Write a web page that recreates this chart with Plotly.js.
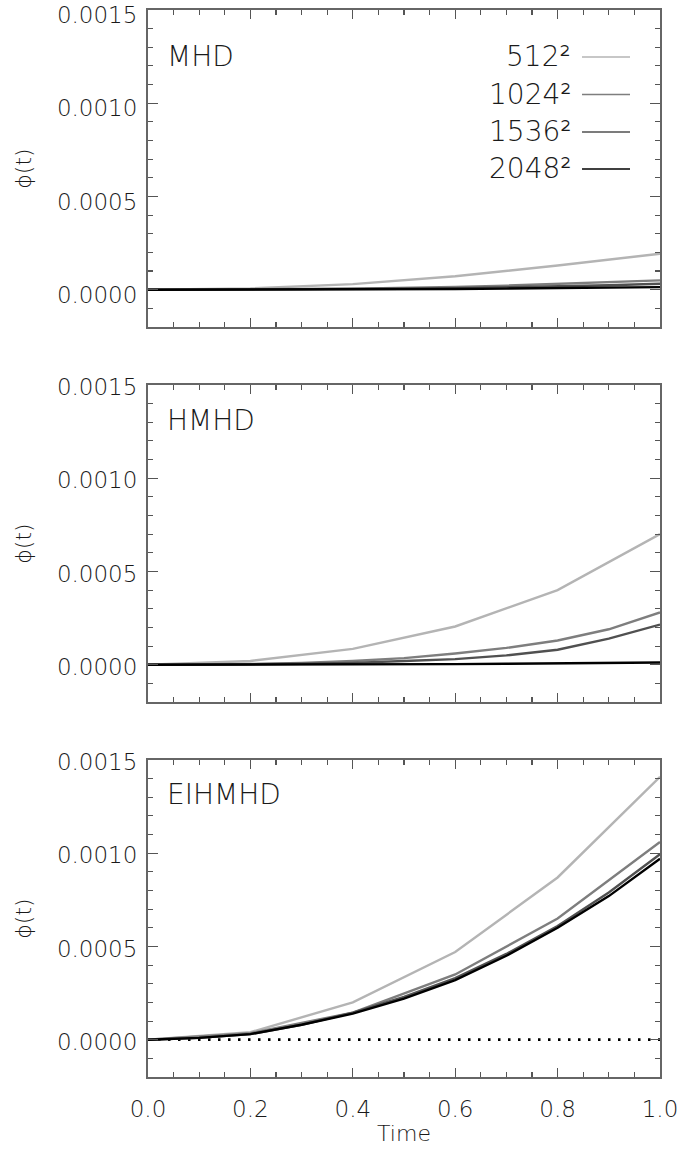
<!DOCTYPE html>
<html>
<head>
<meta charset="utf-8">
<script src="https://cdn.plot.ly/plotly-3.0.1.min.js"></script>
<style>
  html, body { margin: 0; padding: 0; background: #ffffff; }
  #chart { width: 681px; height: 1149px; }
</style>
</head>
<body>
<div id="chart"></div>
<script>
// Reconnection flux phi(t) for three models at four grid resolutions
const resolutions = ['512²', '1024²', '1536²', '2048²'];
const lineColors = ['#b4b4b4', '#7e7e7e', '#505050', '#000000'];
const panelNames = ['MHD', 'HMHD', 'EIHMHD'];

const tCoarse = [0.0, 0.2, 0.4, 0.6, 0.8, 1.0];
const tFine = [0.0, 0.1, 0.2, 0.3, 0.4, 0.5, 0.6, 0.7, 0.8, 0.9, 1.0];

// MHD
const mhd512 = [0, 0.000007, 0.00003, 0.000072, 0.00013, 0.000193];
const mhd1024 = [0, 0.0000005, 0.000001, 0.000003, 0.000006, 0.00001, 0.000015, 0.000022, 0.00003, 0.00004, 0.00005];
const mhd1536 = [0, 0.0000003, 0.0000006, 0.000002, 0.000003, 0.000005, 0.000008, 0.000012, 0.000017, 0.000024, 0.000032];
const mhd2048 = [0, 0, 0, 0.0000005, 0.000001, 0.000002, 0.000004, 0.000006, 0.000008, 0.000011, 0.000014];

// HMHD
const hmhd512 = [0, 0.00002, 0.000085, 0.000205, 0.0004, 0.0007];
const hmhd1024 = [0, 0.000001, 0.000004, 0.00001, 0.00002, 0.000035, 0.00006, 0.00009, 0.00013, 0.00019, 0.00028];
const hmhd1536 = [0, 0, 0.000002, 0.000005, 0.00001, 0.00002, 0.00003, 0.00005, 0.00008, 0.00014, 0.000215];
const hmhd2048 = [0, 0, 0, 0.000001, 0.000001, 0.000002, 0.000003, 0.000005, 0.000007, 0.00001, 0.000012];

// EIHMHD
const eihmhd512 = [0, 0.00004, 0.0002, 0.00047, 0.00087, 0.00141];
const eihmhd1024 = [0, 0.000035, 0.000145, 0.00035, 0.00065, 0.00106];
const eihmhd1536 = [0, 0.00001, 0.00003, 0.00008, 0.000145, 0.00023, 0.00033, 0.00046, 0.00061, 0.00079, 0.000995];
const eihmhd2048 = [0, 0.00001, 0.00003, 0.00008, 0.00014, 0.00022, 0.00032, 0.00045, 0.0006, 0.00077, 0.00097];

// zero reference for the bottom panel
const zeroT = [0.0, 1.0];
const zeroPhi = [0, 0];

const yTicks = [0, 0.0005, 0.001, 0.0015];
const yTickText = ['0.0000', '0.0005', '0.0010', '0.0015'];
const xTicks = [0, 0.2, 0.4, 0.6, 0.8, 1.0];
const xTickText = ['0.0', '0.2', '0.4', '0.6', '0.8', '1.0'];

const FONT = 'DejaVu Sans, Liberation Sans, sans-serif';
const INK = '#1a1a1a';

const panels = [
  { x: [tCoarse, tFine, tFine, tFine], y: [mhd512, mhd1024, mhd1536, mhd2048] },
  { x: [tCoarse, tFine, tFine, tFine], y: [hmhd512, hmhd1024, hmhd1536, hmhd2048] },
  { x: [tCoarse, tCoarse, tFine, tFine], y: [eihmhd512, eihmhd1024, eihmhd1536, eihmhd2048] }
];

const traces = [];
panels.forEach((p, i) => {
  const sfx = i === 0 ? '' : String(i + 1);
  if (i === 2) {
    traces.push({
      x: zeroT, y: zeroPhi, xaxis: 'x' + sfx, yaxis: 'y' + sfx,
      mode: 'lines', line: { color: '#000000', width: 2.8, dash: '2.5px,7.5px' },
      showlegend: false, hoverinfo: 'skip'
    });
  }
  p.y.forEach((vals, k) => {
    traces.push({
      x: p.x[k], y: vals, xaxis: 'x' + sfx, yaxis: 'y' + sfx,
      mode: 'lines', name: resolutions[k],
      line: { color: lineColors[k], width: 2.4 },
      showlegend: false
    });
  });
});

const domains = [[0.70291, 1.0], [0.35145, 0.64855], [0.0, 0.29709]];

function xAxis(i) {
  return {
    domain: [0, 1], range: [0, 1], anchor: i === 0 ? 'y' : 'y' + (i + 1),
    tickmode: 'array', tickvals: xTicks, ticktext: xTickText,
    showticklabels: i === 2,
    ticks: 'inside', ticklen: 9, tickwidth: 1.3, tickcolor: '#555555',
    minor: { dtick: 0.05, ticks: 'inside', ticklen: 5, tickwidth: 1.1, tickcolor: '#555555', showgrid: false },
    showline: true, linecolor: '#666666', linewidth: 2, mirror: 'allticks',
    showgrid: false, zeroline: false,
    tickfont: { family: FONT, size: 23, color: INK, weight: 200 },
    ticklabelstandoff: 10,
    title: i === 2 ? { text: 'Time', font: { family: FONT, size: 22, color: INK, weight: 200 }, standoff: 5 } : { text: '' }
  };
}

function yAxis(i) {
  return {
    domain: domains[i], range: [-0.0002, 0.0015000001], anchor: i === 0 ? 'x' : 'x' + (i + 1),
    tickmode: 'array', tickvals: yTicks, ticktext: yTickText,
    ticks: 'inside', ticklen: 10, tickwidth: 1.3, tickcolor: '#555555',
    minor: { dtick: 0.0001, ticks: 'inside', ticklen: 5, tickwidth: 1.1, tickcolor: '#555555', showgrid: false },
    showline: true, linecolor: '#666666', linewidth: 2, mirror: 'allticks',
    showgrid: false, zeroline: false,
    tickfont: { family: FONT, size: 23, color: INK, weight: 200 },
    ticklabelstandoff: 4, ticklabeloverflow: 'allow',
    // the top panel sits against the page edge, so its labels drop a little lower
    ticklabelshift: i === 0 ? 5 : 2,
    title: { text: 'ϕ(t)', font: { family: FONT, size: 22, color: INK, weight: 200 }, standoff: 19 }
  };
}

const layout = {
  width: 681, height: 1149,
  margin: { l: 148, r: 21, t: 10, b: 72 },
  paper_bgcolor: '#ffffff', plot_bgcolor: '#ffffff',
  showlegend: false,
  xaxis: xAxis(0), yaxis: yAxis(0),
  xaxis2: xAxis(1), yaxis2: yAxis(1),
  xaxis3: xAxis(2), yaxis3: yAxis(2),
  annotations: [], shapes: []
};

// panel names
const nameY = [0.9560, 0.6157, 0.2643];
panelNames.forEach((n, i) => {
  layout.annotations.push({
    text: n, xref: 'paper', yref: 'paper', x: 0.034, y: nameY[i],
    xanchor: 'left', yanchor: 'middle', showarrow: false,
    font: { family: FONT, size: 28, color: INK, weight: 200 }
  });
});

// resolution key in the top panel: label on the left, line sample on the right
const keyY = [0.9560, 0.9208, 0.8857, 0.8510];
resolutions.forEach((r, k) => {
  layout.annotations.push({
    text: r, xref: 'paper', yref: 'paper', x: 0.830, y: keyY[k],
    xanchor: 'right', yanchor: 'middle', showarrow: false,
    font: { family: FONT, size: 28, color: INK, weight: 200 }
  });
  layout.shapes.push({
    type: 'line', xref: 'paper', yref: 'paper',
    x0: 0.8477, x1: 0.9414, y0: keyY[k], y1: keyY[k],
    line: { color: lineColors[k], width: 1.4 }
  });
});

Plotly.newPlot('chart', traces, layout, { staticPlot: true, displayModeBar: false });
</script>
</body>
</html>
